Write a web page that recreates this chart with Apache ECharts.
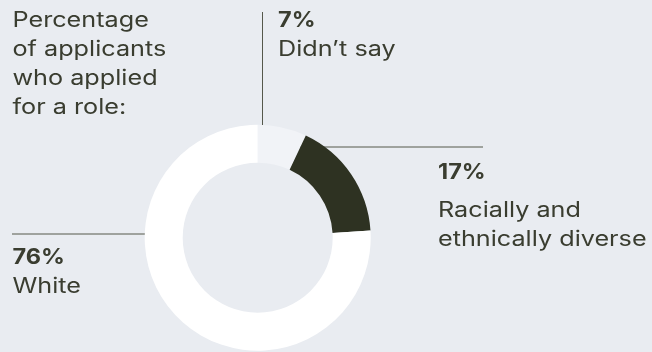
<!DOCTYPE html>
<html>
<head>
<meta charset="utf-8">
<script src="https://cdn.jsdelivr.net/npm/echarts@6/dist/echarts.min.js"></script>
<style>
  html, body { margin: 0; padding: 0; background: #e9ecf1; }
  #chart { width: 652px; height: 352px; }
</style>
</head>
<body>
<div id="chart"></div>
<script>
// Share of applicants by group (percent)
const categories = ['Didn’t say', 'Racially and ethnically diverse', 'White'];
const shares = [7, 17, 76];
const sliceColors = ['#f1f3f7', '#2e3222', '#ffffff'];
// Label wording, one entry per category, split into lines
const labelLines = [['Didn’t say'], ['Racially and', 'ethnically diverse'], ['White']];
const titleLines = ['Percentage', 'of applicants', 'who applied', 'for a role:'];

const FONT = 'Inter, "Noto Sans", sans-serif';
const TEXT = '#3a3d30';
const RULE = '#55584b';
const SIZE = 21;
// Wide set type: stretch the glyphs horizontally
const WIDEN = 1.2;
const WIDEN_BOLD = 1.12;

// Where each label block sits: x, baseline of the percentage, gap to next line
const labelPlace = [
  { x: 278, base: 27.5, gaps: [29.5] },
  { x: 438, base: 179.5, gaps: [38, 29] },
  { x: 12.5, base: 265, gaps: [29] }
];

function textEl(str, x, baseline, bold) {
  return {
    type: 'text',
    x: x,
    y: baseline - SIZE * 0.34,
    scaleX: bold ? WIDEN_BOLD : WIDEN,
    silent: true,
    style: {
      text: str,
      fill: TEXT,
      font: (bold ? '700 ' : '400 ') + SIZE + 'px ' + FONT,
      align: 'left',
      verticalAlign: 'middle'
    }
  };
}

const elements = [];

// Heading in the top-left corner
titleLines.forEach(function (line, i) {
  elements.push(textEl(line, 12.5, 27.5 + i * 29.2, false));
});

// Percentage + category text for each slice
shares.forEach(function (v, i) {
  const p = labelPlace[i];
  let y = p.base;
  elements.push(textEl(v + '%', p.x, y, true));
  labelLines[i].forEach(function (line, j) {
    y += p.gaps[Math.min(j, p.gaps.length - 1)];
    elements.push(textEl(line, p.x, y, false));
  });
});

// Leader rules (drawn beneath the donut)
const rules = [
  [262.5, 12, 262.5, 125],
  [300, 147, 483, 147],
  [12, 234, 150, 234]
];
rules.forEach(function (r) {
  elements.push({
    type: 'line',
    silent: true,
    shape: { x1: r[0], y1: r[1], x2: r[2], y2: r[3] },
    style: { stroke: RULE, lineWidth: 1 }
  });
});

const chart = echarts.init(document.getElementById('chart'), null, { renderer: 'canvas' });
chart.setOption({
  backgroundColor: '#e9ecf1',
  animation: false,
  graphic: { elements: elements },
  series: [{
    type: 'pie',
    center: [257.7, 237.7],
    radius: [75, 113],
    startAngle: 90,
    clockwise: true,
    silent: true,
    label: { show: false },
    labelLine: { show: false },
    emphasis: { disabled: true },
    data: categories.map(function (name, i) {
      return { name: name, value: shares[i], itemStyle: { color: sliceColors[i] } };
    })
  }]
});
</script>
</body>
</html>
